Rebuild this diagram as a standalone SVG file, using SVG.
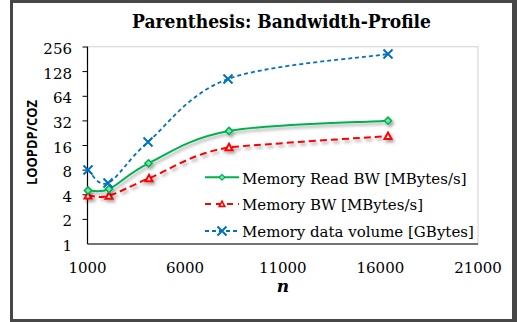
<svg xmlns="http://www.w3.org/2000/svg" width="517" height="322" viewBox="0 0 517 322">
<style>
.tick{font-family:"DejaVu Serif","Liberation Serif",serif;font-size:15px;fill:#000}
.leg{font-family:"DejaVu Serif","Liberation Serif",serif;font-size:15px;fill:#000}
.ax{stroke:#000;stroke-width:1.2;fill:none}
.g{stroke:#00b050;stroke-width:2;fill:none}
.r{stroke:#ff0000;stroke-width:2;fill:none;stroke-dasharray:7 4}
.b{stroke:#0070c0;stroke-width:1.8;fill:none;stroke-dasharray:4 3}
.gm{fill:#7fe0a8;stroke:#00b050;stroke-width:1.5}
.rm{fill:#ffffff;stroke:#ff0000;stroke-width:2}
.bm{stroke:#0070c0;stroke-width:2;fill:none}
</style>
<defs>
<filter id="sh" x="-10%" y="-30%" width="130%" height="180%">
<feDropShadow dx="2" dy="2.5" stdDeviation="1.4" flood-color="#000" flood-opacity="0.35"/>
</filter>
<path id="dia" d="M0,-3.6 L3.6,0 L0,3.6 L-3.6,0 Z"/>
<path id="tri" d="M0,-3.5 L3.5,3 L-3.5,3 Z"/>
<path id="xm" d="M-4.5,-4.5 L4.5,4.5 M4.5,-4.5 L-4.5,4.5"/>
</defs>
<rect width="517" height="322" fill="#fff"/>
<g id="frame" fill="#474747">
<rect x="10" y="0" width="507" height="3"/>
<rect x="10" y="0" width="3" height="322"/>
<rect x="512" y="0" width="5" height="322"/>
<rect x="10" y="319" width="507" height="3"/>
</g>
<g id="title">
<text x="281.5" y="27.5" text-anchor="middle" font-family="'DejaVu Serif','Liberation Serif',serif" font-weight="bold" font-size="18" textLength="299" lengthAdjust="spacingAndGlyphs">Parenthesis: Bandwidth-Profile</text>
</g>
<g id="plot-area">
<rect x="87.5" y="46.7" width="390.5" height="197.3" fill="#fff" stroke="#d9d9d9" stroke-width="1.2"/>
<line class="ax" x1="87.5" y1="46.7" x2="87.5" y2="244"/>
<line class="ax" x1="87.5" y1="244" x2="478" y2="244"/>
<g stroke="#000" stroke-width="1">
<line x1="82.5" y1="47" x2="87.5" y2="47"/>
<line x1="82.5" y1="71.6" x2="87.5" y2="71.6"/>
<line x1="82.5" y1="96.3" x2="87.5" y2="96.3"/>
<line x1="82.5" y1="120.9" x2="87.5" y2="120.9"/>
<line x1="82.5" y1="145.5" x2="87.5" y2="145.5"/>
<line x1="82.5" y1="170.1" x2="87.5" y2="170.1"/>
<line x1="82.5" y1="194.8" x2="87.5" y2="194.8"/>
<line x1="82.5" y1="219.4" x2="87.5" y2="219.4"/>
</g>
</g>
<g id="y-labels" class="tick" text-anchor="end">
<text x="72" y="54">256</text>
<text x="72" y="78.6">128</text>
<text x="72" y="103.3">64</text>
<text x="72" y="127.9">32</text>
<text x="72" y="152.5">16</text>
<text x="72" y="177.1">8</text>
<text x="72" y="201.8">4</text>
<text x="72" y="226.4">2</text>
<text x="72" y="251">1</text>
</g>
<g id="x-labels" class="tick" text-anchor="middle">
<text x="87.5" y="272.5">1000</text>
<text x="185" y="272.5">6000</text>
<text x="282.8" y="272.5">11000</text>
<text x="380.4" y="272.5">16000</text>
<text x="478" y="272.5">21000</text>
</g>
<g id="axis-titles">
<text x="283" y="292" text-anchor="middle" font-family="'DejaVu Serif','Liberation Serif',serif" font-weight="bold" font-style="italic" font-size="17">n</text>
<text transform="translate(36.5,142.5) rotate(-90)" text-anchor="middle" font-family="'Open Sans','Liberation Sans',sans-serif" font-weight="bold" font-size="14" textLength="85" lengthAdjust="spacingAndGlyphs">LOOPDP/COZ</text>
</g>
<g id="connectors">
<g id="series-red" filter="url(#sh)">
<path class="r" d="M88,195.5 C91.5,195.5 98.8,198.6 109,195.7 C119.2,192.8 129,186.4 149,178.3 C169,170.4 189.2,154.4 229,147.3 C268.8,143.7 361.5,137.9 388,136"/>
<g class="rm">
<use href="#tri" x="88" y="195.5"/><use href="#tri" x="109" y="195.7"/><use href="#tri" x="149" y="178.3"/><use href="#tri" x="229" y="147.3"/><use href="#tri" x="388" y="136"/>
</g>
</g>
<g id="series-green" filter="url(#sh)">
<path class="g" d="M88,190.5 C91.5,190.25 98.9,193.5 109,189 C119.1,184.5 128.5,173 148.5,163.3 C168.5,153.7 189.1,138.1 229,131 C268.9,123.9 361.5,122.4 388,120.7"/>
<g class="gm">
<use href="#dia" x="88" y="190.5"/><use href="#dia" x="109" y="189"/><use href="#dia" x="148.5" y="163.3"/><use href="#dia" x="229" y="131"/><use href="#dia" x="388" y="120.7"/>
</g>
</g>
<g id="series-blue">
<path class="b" d="M88,170 C91.3,172.2 98,187.7 108,183 C118,178.3 128,159.3 148,142 C168,124.7 188,93.7 228,79 C268,64.3 361.3,58.2 388,54"/>
<g class="bm">
<use href="#xm" x="88" y="170"/><use href="#xm" x="108" y="183"/><use href="#xm" x="148" y="142"/><use href="#xm" x="228" y="79"/><use href="#xm" x="388" y="54"/>
</g>
</g>
</g>
<g id="legend">
<line class="g" x1="205" y1="177.3" x2="239" y2="177.3"/>
<use href="#dia" x="222" y="177.3" class="gm" transform="translate(222,177.3) scale(0.8) translate(-222,-177.3)"/>
<text class="leg" x="242" y="183.5">Memory Read BW [MBytes/s]</text>
<line class="r" x1="205" y1="204" x2="239" y2="204" style="stroke-dasharray:6 5"/>
<use href="#tri" x="222" y="204" class="rm" transform="translate(222,204) scale(0.8) translate(-222,-204)"/>
<text class="leg" x="242" y="210">Memory BW [MBytes/s]</text>
<line class="b" x1="205" y1="231" x2="239" y2="231"/>
<use href="#xm" x="222" y="231" class="bm"/>
<text class="leg" x="242" y="237">Memory data volume [GBytes]</text>
</g>
</svg>
